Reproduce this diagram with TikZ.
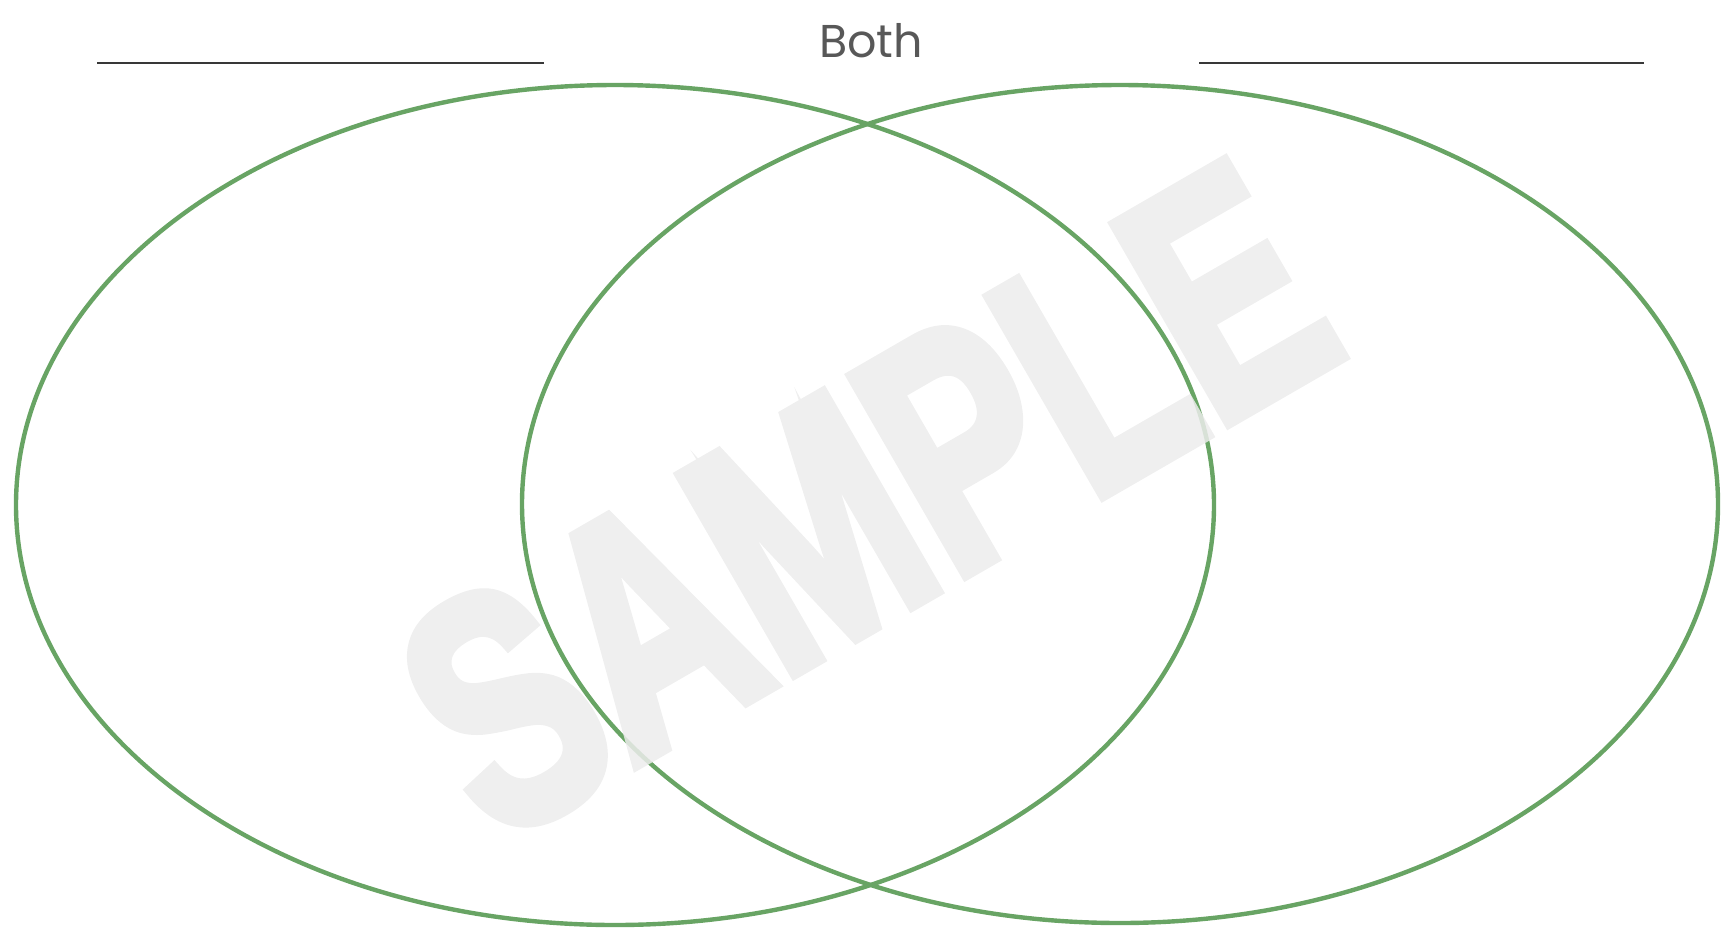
\documentclass[tikz,border=0pt]{standalone}
\usepackage{fontspec}
\setmainfont{Liberation Sans}
\newfontfamily\bothfont{Poppins}
\newfontfamily\markfont[BoldFont={Liberation Sans Bold},BoldFeatures={FakeBold=4}]{Liberation Sans}
\usetikzlibrary{positioning}
\definecolor{venngreen}{RGB}{104,164,100}
\definecolor{labelgray}{RGB}{88,88,88}
\definecolor{markgray}{RGB}{236,236,236}

\begin{document}
\begin{tikzpicture}[x=1pt, y=-1pt, line join=round]
\useasboundingbox (0,0) rectangle (1721,930);
% name lines
\draw[line width=2.8pt,black!78] (97,63)--(544,63);
\draw[line width=2.8pt,black!78] (1199,63)--(1644,63);
\node[anchor=base,text=labelgray,inner sep=0pt,font=\bothfont\fontsize{46}{50}\selectfont] (both) at (871,57) {Both};
% two sets
\draw[line width=4.4pt,venngreen] (615,505) ellipse [x radius=599, y radius=420];
\draw[line width=4.4pt,venngreen] (1120,504) ellipse [x radius=598, y radius=419];
% watermark
\begin{scope}[transparency group, opacity=0.85]
\node[rotate=30,text=markgray,inner sep=0pt] (mark) at (866,500)
  {\scalebox{0.72}[1]{\markfont\bfseries\fontsize{330}{330}\selectfont SAMPLE}};
\end{scope}
\end{tikzpicture}
\end{document}
